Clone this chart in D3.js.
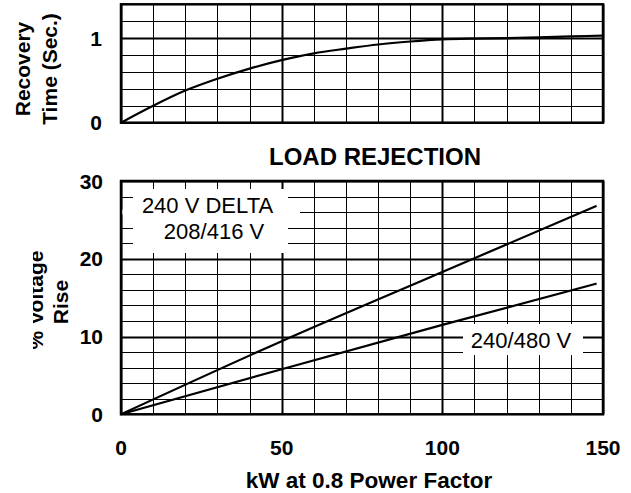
<!DOCTYPE html>
<html>
<head>
<meta charset="utf-8">
<script src="https://cdn.jsdelivr.net/npm/d3@7"></script>
<style>
  body { margin: 0; background: #fff; }
  svg { display: block; }
  text { font-family: Arial, "Liberation Sans", sans-serif; fill: #000; }
</style>
</head>
<body>
<div id="chart"></div>
<script>
// chart data
var kwTicks = [0, 50, 100, 150];
var recoveryTicks = [0, 1];
var riseTicks = [0, 10, 20, 30];

var recoveryKw = [0, 10, 20, 30, 40, 50, 60, 70, 80, 90, 100, 110, 120, 130, 140, 150];
var recoverySec = [0, 0.2, 0.38, 0.52, 0.64, 0.74, 0.82, 0.875, 0.925, 0.96, 0.985, 0.995, 1.0, 1.01, 1.02, 1.03];

var riseKw = [0, 50, 100, 148];
var riseDelta = [0, 9.4, 18.3, 26.8];   // 240 V DELTA, 208/416 V
var rise480 = [0, 5.8, 11.5, 16.8];     // 240/480 V

var svgWidth = 631;
var svgHeight = 493;

var svg = d3.select("#chart")
    .append("svg")
    .attr("width", svgWidth)
    .attr("height", svgHeight);

// scales (both panels share the kW axis)
var xScale = d3.scaleLinear().domain([0, 150]).range([121, 603]);
var yTop = d3.scaleLinear().domain([0, 1.4]).range([122.7, 4.3]);
var yBot = d3.scaleLinear().domain([0, 30]).range([414.3, 181]);

var crisp = v => Math.round(v) + 0.5;

// draws the grid of one panel
function drawGrid(g, yScale, yStep, yMajor, yMax) {
    var xs = d3.range(0, 151, 10);
    var ys = d3.range(0, yMax + 1e-9, yStep);

    g.selectAll(".vgrid")
        .data(xs)
        .enter()
        .append("line")
        .attr("x1", d => crisp(xScale(d)))
        .attr("x2", d => crisp(xScale(d)))
        .attr("y1", yScale(yMax))
        .attr("y2", yScale(0))
        .attr("stroke", "#000")
        .attr("stroke-width", d => d % 50 === 0 ? 2 : 1);

    g.selectAll(".hgrid")
        .data(ys)
        .enter()
        .append("line")
        .attr("x1", xScale(0))
        .attr("x2", xScale(150))
        .attr("y1", d => crisp(yScale(d)))
        .attr("y2", d => crisp(yScale(d)))
        .attr("stroke", "#000")
        .attr("stroke-width", d => Math.abs(d / yMajor - Math.round(d / yMajor)) < 1e-6 && d > 0 ? 2 : 1);
}

// frame of one panel
function drawFrame(g, yScale, yMax) {
    g.append("rect")
        .attr("x", xScale(0))
        .attr("y", yScale(yMax))
        .attr("width", xScale(150) - xScale(0))
        .attr("height", yScale(0) - yScale(yMax))
        .attr("fill", "none")
        .attr("stroke", "#000")
        .attr("stroke-width", 2.5);
}

// ---- top panel: recovery time
var topGroup = svg.append("g");
drawGrid(topGroup, yTop, 0.2, 1, 1.4);

var recoveryLine = d3.line()
    .x((d, i) => xScale(recoveryKw[i]))
    .y(d => yTop(d))
    .curve(d3.curveMonotoneX);

topGroup.append("path")
    .attr("d", recoveryLine(recoverySec))
    .attr("fill", "none")
    .attr("stroke", "#000")
    .attr("stroke-width", 2.2);

drawFrame(topGroup, yTop, 1.4);

topGroup.selectAll(".ytick")
    .data(recoveryTicks)
    .enter()
    .append("text")
    .attr("x", 102)
    .attr("y", d => yTop(d))
    .attr("dy", "0.36em")
    .attr("text-anchor", "end")
    .attr("font-size", 21)
    .attr("font-weight", "bold")
    .text(d => d);

topGroup.append("text")
    .attr("transform", "translate(29.5, 69) rotate(-90)")
    .attr("text-anchor", "middle")
    .attr("font-size", 21)
    .attr("font-weight", "bold")
    .text("Recovery");

topGroup.append("text")
    .attr("transform", "translate(57, 69) rotate(-90)")
    .attr("text-anchor", "middle")
    .attr("font-size", 21)
    .attr("font-weight", "bold")
    .text("Time (Sec.)");

// ---- bottom panel: load rejection
var botGroup = svg.append("g");

botGroup.append("text")
    .attr("x", 375)
    .attr("y", 165)
    .attr("text-anchor", "middle")
    .attr("font-size", 24)
    .attr("font-weight", "bold")
    .text("LOAD REJECTION");

drawGrid(botGroup, yBot, 2, 10, 30);

// white boxes behind the series labels
botGroup.append("rect")
    .attr("x", 122)
    .attr("y", yBot(26) - 2.5)
    .attr("width", 178)
    .attr("height", 5)
    .attr("fill", "#fff");

botGroup.append("rect")
    .attr("x", 133)
    .attr("y", 189)
    .attr("width", 155)
    .attr("height", 64)
    .attr("fill", "#fff");

botGroup.append("rect")
    .attr("x", 463)
    .attr("y", 324)
    .attr("width", 120)
    .attr("height", 31)
    .attr("fill", "#fff");

var riseLine = d3.line()
    .x((d, i) => xScale(riseKw[i]))
    .y(d => yBot(d))
    .curve(d3.curveMonotoneX);

botGroup.selectAll(".rise")
    .data([riseDelta, rise480])
    .enter()
    .append("path")
    .attr("d", d => riseLine(d))
    .attr("fill", "none")
    .attr("stroke", "#000")
    .attr("stroke-width", 2.2);

drawFrame(botGroup, yBot, 30);

// series labels
botGroup.append("text")
    .attr("x", 207.5)
    .attr("y", 212.5)
    .attr("text-anchor", "middle")
    .attr("font-size", 22)
    .text("240 V DELTA");

botGroup.append("text")
    .attr("x", 214)
    .attr("y", 238.5)
    .attr("text-anchor", "middle")
    .attr("font-size", 22)
    .text("208/416 V");

botGroup.append("text")
    .attr("x", 521)
    .attr("y", 348)
    .attr("text-anchor", "middle")
    .attr("font-size", 22)
    .text("240/480 V");

// y ticks
botGroup.selectAll(".ytick")
    .data(riseTicks)
    .enter()
    .append("text")
    .attr("x", 103)
    .attr("y", d => yBot(d))
    .attr("dy", "0.36em")
    .attr("text-anchor", "end")
    .attr("font-size", 21)
    .attr("font-weight", "bold")
    .text(d => d);

// x ticks
botGroup.selectAll(".xtick")
    .data(kwTicks)
    .enter()
    .append("text")
    .attr("x", d => xScale(d))
    .attr("y", 455)
    .attr("text-anchor", "middle")
    .attr("font-size", 21)
    .attr("font-weight", "bold")
    .text(d => d);

botGroup.append("text")
    .attr("x", 369)
    .attr("y", 488)
    .attr("text-anchor", "middle")
    .attr("font-size", 22.5)
    .attr("font-weight", "bold")
    .text("kW at 0.8 Power Factor");

// y label, partly hidden on the left like the original
svg.append("clipPath")
    .attr("id", "ylabClip")
    .append("rect")
    .attr("x", 33)
    .attr("y", 0)
    .attr("width", 90)
    .attr("height", svgHeight);

var ylabGroup = botGroup.append("g")
    .attr("clip-path", "url(#ylabClip)");

ylabGroup.append("text")
    .attr("transform", "translate(43, 300) rotate(-90)")
    .attr("text-anchor", "middle")
    .attr("font-size", 21)
    .attr("font-weight", "bold")
    .text("% Voltage");

botGroup.append("text")
    .attr("transform", "translate(68, 302) rotate(-90)")
    .attr("text-anchor", "middle")
    .attr("font-size", 21)
    .attr("font-weight", "bold")
    .text("Rise");
</script>
</body>
</html>
